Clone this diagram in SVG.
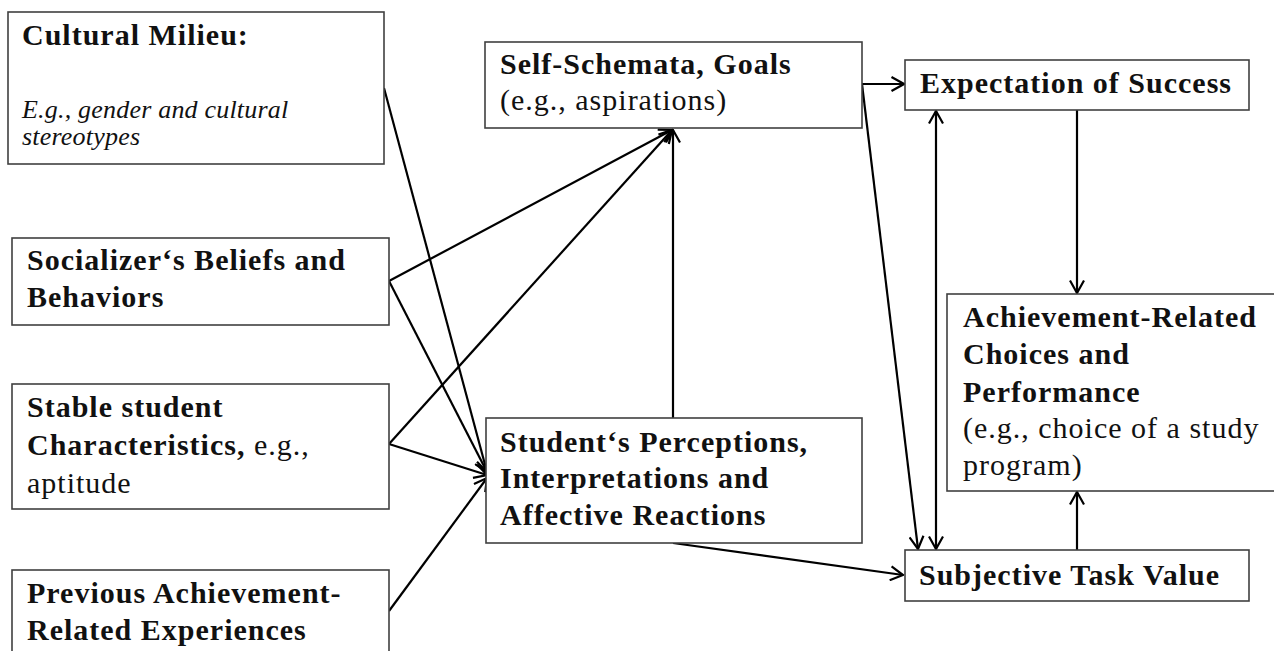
<svg xmlns="http://www.w3.org/2000/svg" width="1274" height="651" viewBox="0 0 1274 651">
<defs>
<marker id="arr" viewBox="0 0 16 16" markerWidth="16" markerHeight="16" refX="14.5" refY="8" orient="auto-start-reverse" markerUnits="userSpaceOnUse">
<path d="M2,1 L14.5,8 L2,15" fill="none" stroke="#000" stroke-width="2.2"/>
</marker>
<style>
.box{fill:#fff;stroke:#404040;stroke-width:1.6}
.b{font-family:"Liberation Serif",serif;font-weight:bold;font-size:30px;letter-spacing:1px;fill:#111}
.r{font-family:"Liberation Serif",serif;font-size:30px;letter-spacing:1px;fill:#111}
.i{font-family:"Liberation Serif",serif;font-style:italic;font-size:26px;letter-spacing:0.2px;fill:#111}
.c{fill:none;stroke:#000;stroke-width:2.2}
.a{marker-end:url(#arr)}
.aa{marker-start:url(#arr);marker-end:url(#arr)}
</style>
</defs>
<rect width="1274" height="651" fill="#fff"/>
<g id="connectors">
<path class="c a" d="M384,88 L487,472"/>
<path class="c a" d="M389,281 L672,130"/>
<path class="c a" d="M389,281 L487,472"/>
<path class="c a" d="M389,444 L672,130"/>
<path class="c a" d="M389,444 L487,475"/>
<path class="c a" d="M389,611 L487,478"/>
<path class="c a" d="M673,418 L673,130"/>
<path class="c a" d="M862,84 L904,84"/>
<path class="c a" d="M862,84 L918,549"/>
<path class="c aa" d="M936,111 L936,549"/>
<path class="c a" d="M1077,110 L1077,293"/>
<path class="c a" d="M1077,550 L1077,492"/>
<path class="c a" d="M673,543 L903,575"/>
</g>
<g id="cultural">
<rect class="box" x="8" y="12" width="376" height="152"/>
<text class="b" x="22" y="45">Cultural Milieu:</text>
<text class="i" x="22" y="118">E.g., gender and cultural</text>
<text class="i" x="22" y="145">stereotypes</text>
</g>
<g id="socializer">
<rect class="box" x="12" y="238" width="377" height="87"/>
<text class="b" x="27" y="270">Socializer‘s Beliefs and</text>
<text class="b" x="27" y="307">Behaviors</text>
</g>
<g id="stable">
<rect class="box" x="12" y="384" width="377" height="125"/>
<text class="b" x="27" y="417">Stable student</text>
<text x="27" y="455"><tspan class="b">Characteristics,</tspan><tspan class="r"> e.g.,</tspan></text>
<text class="r" x="27" y="493">aptitude</text>
</g>
<g id="previous">
<rect class="box" x="12" y="570" width="377" height="100"/>
<text class="b" x="27" y="603">Previous Achievement-</text>
<text class="b" x="27" y="640">Related Experiences</text>
</g>
<g id="self">
<rect class="box" x="485" y="42" width="377" height="86"/>
<text class="b" x="500" y="74">Self-Schemata, Goals</text>
<text class="r" x="500" y="110">(e.g., aspirations)</text>
</g>
<g id="perceptions">
<rect class="box" x="486" y="418" width="376" height="125"/>
<text class="b" x="500" y="452">Student‘s Perceptions,</text>
<text class="b" x="500" y="488">Interpretations and</text>
<text class="b" x="500" y="525">Affective Reactions</text>
</g>
<g id="expectation">
<rect class="box" x="905" y="60" width="344" height="50"/>
<text class="b" x="920" y="93">Expectation of Success</text>
</g>
<g id="achievement">
<rect class="box" x="947" y="294" width="340" height="197"/>
<text class="b" x="963" y="327">Achievement-Related</text>
<text class="b" x="963" y="364">Choices and</text>
<text class="b" x="963" y="402">Performance</text>
<text class="r" x="963" y="438">(e.g., choice of a study</text>
<text class="r" x="963" y="475">program)</text>
</g>
<g id="subjective">
<rect class="box" x="905" y="550" width="344" height="51"/>
<text class="b" x="919" y="585">Subjective Task Value</text>
</g>
</svg>
